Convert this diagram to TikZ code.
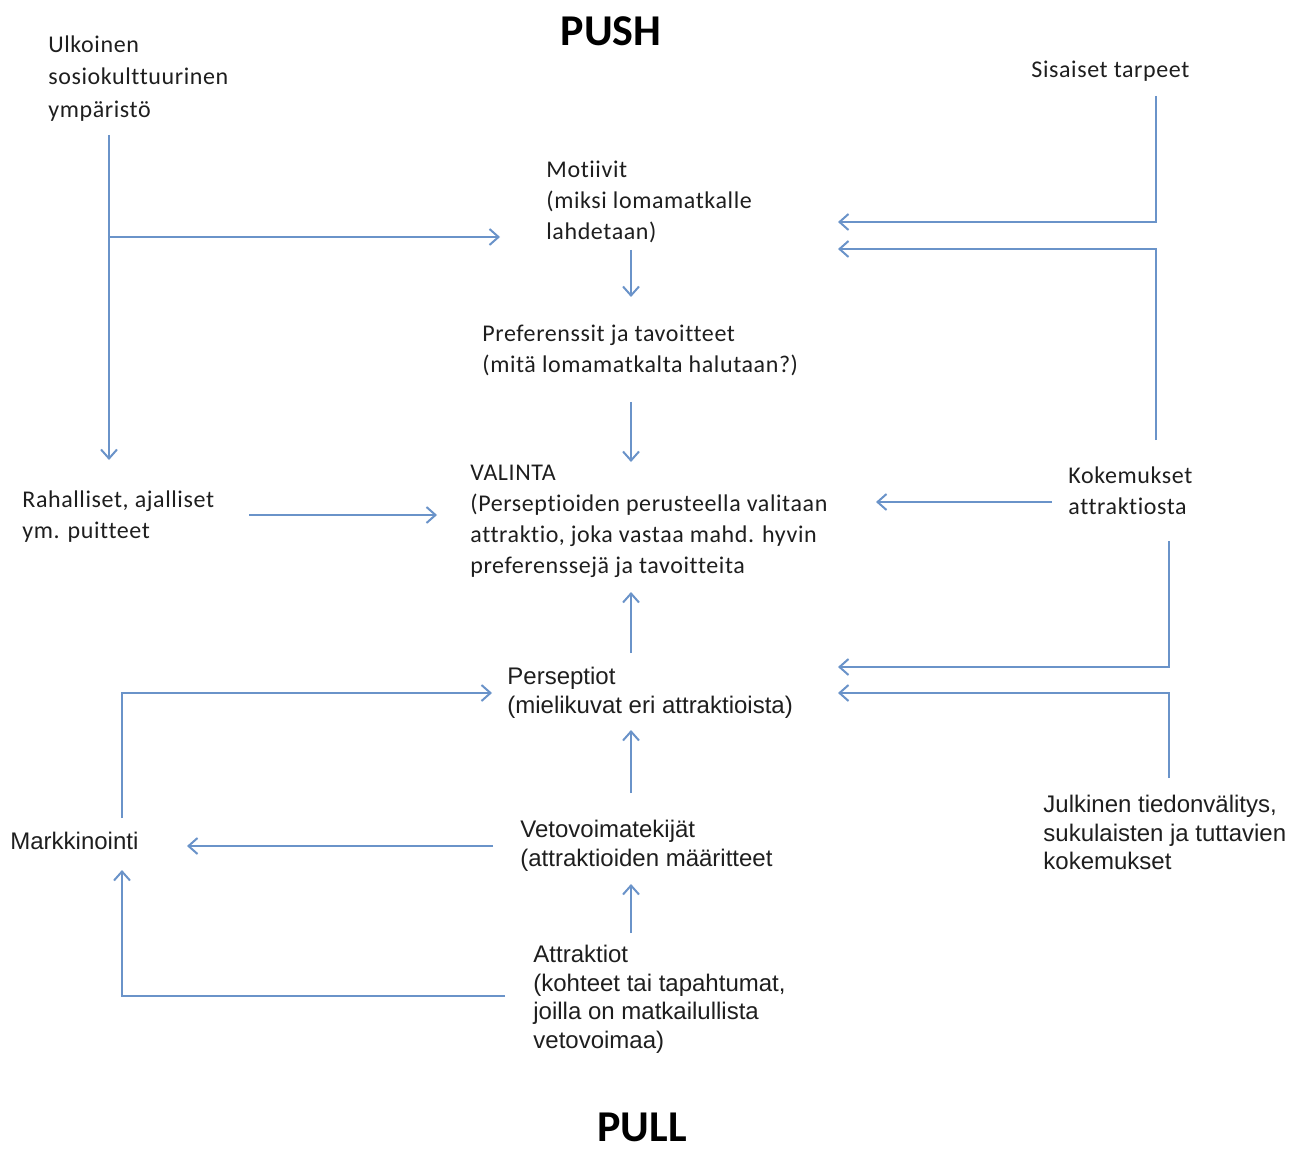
\documentclass[tikz,border=0pt]{standalone}
\usepackage{fontspec}
\setmainfont{Carlito}[LetterSpace=2.5,Ligatures={NoCommon}]
\newfontfamily\arialf{Liberation Sans}
\newfontfamily\headf{Carlito}
\usetikzlibrary{arrows.meta}
\definecolor{ln}{HTML}{6A93C9}
\definecolor{tx}{HTML}{1E1E1E}
\begin{document}
\begin{tikzpicture}[x=0.5pt,y=-0.5pt,
  ctxt/.style={anchor=north west,inner sep=0pt,align=left,text=tx,font=\fontsize{12}{15.5}\selectfont},
  atxt/.style={anchor=north west,inner sep=0pt,align=left,text=tx,font=\arialf\fontsize{12}{14.25}\selectfont},
  head/.style={text=black,font=\headf\bfseries\fontsize{22}{26}\selectfont,inner sep=0pt},
  conn/.style={draw=ln,line width=1.2pt},
  arr/.style={conn,-{Straight Barb[length=4.5pt,width=8pt,line width=1pt]}}]
\useasboundingbox (0,0) rectangle (1304,1149);
% headings
\node[head] (push) at (611,31) {PUSH};
\node[head] (pull) at (642,1127) {PULL};
% push side texts
\node[ctxt, font=\fontsize{12}{16.25}\selectfont] (ulk) at (48,35) {Ulkoinen\\sosiokulttuurinen\\ympäristö};
\node[ctxt] (mot) at (546,161) {Motiivit\\(miksi lomamatkalle\\lahdetaan)};
\node[ctxt] (pref) at (482,325) {Preferenssit ja tavoitteet\\(mitä lomamatkalta halutaan?)};
\node[ctxt] (val) at (470,465) {VALINTA\\(Perseptioiden perusteella valitaan\\attraktio, joka vastaa mahd. hyvin\\preferenssejä ja tavoitteita};
\node[ctxt] (rah) at (22,490) {Rahalliset, ajalliset\\ym. puitteet};
\node[ctxt] (sis) at (1031,61) {Sisaiset tarpeet};
\node[ctxt] (kok) at (1068,466) {Kokemukset\\attraktiosta};
% pull side texts
\node[atxt] (pers) at (507,667) {Perseptiot\\(mielikuvat eri attraktioista)};
\node[atxt] (veto) at (520,820) {Vetovoimatekijät\\(attraktioiden määritteet};
\node[atxt] (attr) at (533,945) {Attraktiot\\(kohteet tai tapahtumat,\\joilla on matkailullista\\vetovoimaa)};
\node[atxt] (julk) at (1043,795) {Julkinen tiedonvälitys,\\sukulaisten ja tuttavien\\kokemukset};
\node[atxt] (mark) at (10,832) {Markkinointi};
% connector points
\coordinate (ulkS) at (109,135);
\coordinate (ulkJ) at (109,237);
\coordinate (rahN) at (109,460);
\coordinate (motW) at (500,237);
\coordinate (motS) at (631,250);
\coordinate (prefN) at (631,297);
\coordinate (prefS) at (631,402);
\coordinate (valN) at (631,462);
\coordinate (rahE) at (249,515);
\coordinate (valW) at (437,515);
\coordinate (sisS) at (1156,96);
\coordinate (sisC) at (1156,222);
\coordinate (motE1) at (838,222);
\coordinate (kokN) at (1156,440);
\coordinate (kokC) at (1156,249);
\coordinate (motE2) at (838,249);
\coordinate (kokW) at (1052,502);
\coordinate (valE) at (876,502);
\coordinate (kokS) at (1169,541);
\coordinate (kokC2) at (1169,667);
\coordinate (persE1) at (838,667);
\coordinate (julkN) at (1169,778);
\coordinate (julkC) at (1169,693);
\coordinate (persE2) at (838,693);
\coordinate (persN) at (631,653);
\coordinate (valS) at (631,592);
\coordinate (vetoN) at (631,793);
\coordinate (persS) at (631,730);
\coordinate (vetoW) at (493,846);
\coordinate (markE) at (187,846);
\coordinate (markN) at (122,818);
\coordinate (markC) at (122,693);
\coordinate (persW) at (492,693);
\coordinate (attrW) at (505,996);
\coordinate (markC2) at (122,996);
\coordinate (markS) at (122,870);
\coordinate (attrN) at (631,933);
\coordinate (vetoS) at (631,884);
% connectors
\draw[arr] (ulkS) -- (rahN);
\draw[arr] (ulkJ) -- (motW);
\draw[arr] (motS) -- (prefN);
\draw[arr] (prefS) -- (valN);
\draw[arr] (rahE) -- (valW);
\draw[arr] (sisS) -- (sisC) -- (motE1);
\draw[arr] (kokN) -- (kokC) -- (motE2);
\draw[arr] (kokW) -- (valE);
\draw[arr] (kokS) -- (kokC2) -- (persE1);
\draw[arr] (julkN) -- (julkC) -- (persE2);
\draw[arr] (persN) -- (valS);
\draw[arr] (vetoN) -- (persS);
\draw[arr] (vetoW) -- (markE);
\draw[arr] (markN) -- (markC) -- (persW);
\draw[arr] (attrW) -- (markC2) -- (markS);
\draw[arr] (attrN) -- (vetoS);
\end{tikzpicture}
\end{document}
